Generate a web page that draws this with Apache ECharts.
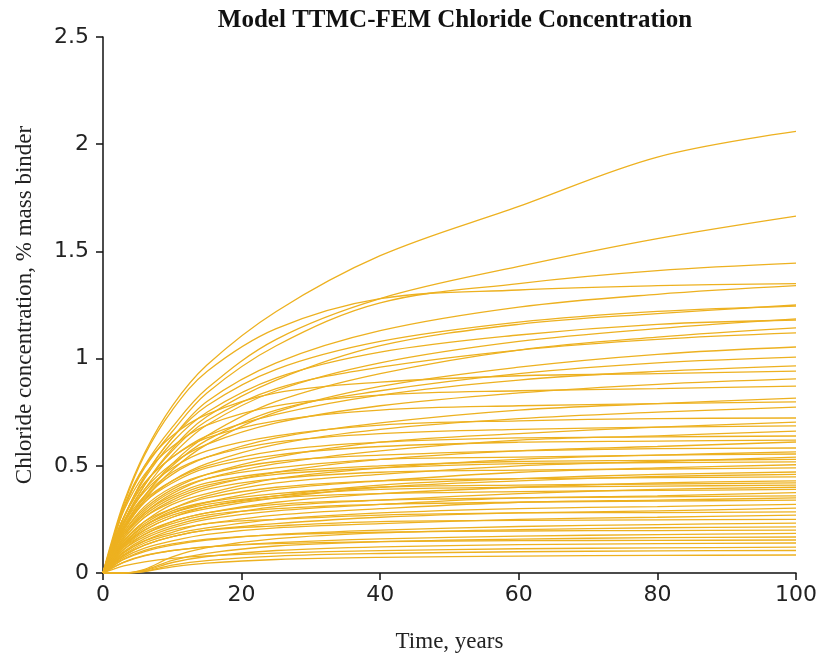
<!DOCTYPE html>
<html>
<head>
<meta charset="utf-8">
<title>Model TTMC-FEM Chloride Concentration</title>
<script src="https://cdn.jsdelivr.net/npm/echarts@6/dist/echarts.min.js"></script>
<style>
  html, body { margin: 0; padding: 0; background: #fff; }
  #chart { width: 820px; height: 660px; }
</style>
</head>
<body>
<div id="chart"></div>
<script>
// sample times (years) shared by every curve
var years = [0, 1, 3, 6, 10, 15, 25, 40, 60, 80, 100]

// chloride concentration, % mass binder
var upperCurves = [
  [0, 0.12, 0.33, 0.56, 0.78, 0.97, 1.22, 1.48, 1.71, 1.94, 2.06],
  [0, 0.1, 0.3, 0.5, 0.68, 0.86, 1.09, 1.28, 1.43, 1.56, 1.665],
  [0, 0.1, 0.3, 0.49, 0.66, 0.84, 1.06, 1.26, 1.35, 1.41, 1.445],
  [0, 0.11, 0.32, 0.55, 0.76, 0.94, 1.14, 1.28, 1.32, 1.34, 1.35],
  [0, 0.09, 0.26, 0.45, 0.63, 0.8, 0.98, 1.13, 1.24, 1.3, 1.34],
  [0, 0.08, 0.24, 0.41, 0.58, 0.73, 0.9, 1.06, 1.16, 1.21, 1.25],
  [0, 0.09, 0.26, 0.45, 0.63, 0.78, 0.95, 1.08, 1.17, 1.22, 1.245],
  [0, 0.08, 0.23, 0.39, 0.55, 0.69, 0.85, 0.98, 1.08, 1.14, 1.185],
  [0, 0.09, 0.26, 0.44, 0.61, 0.75, 0.91, 1.03, 1.11, 1.16, 1.18],
  [0, 0.07, 0.21, 0.36, 0.51, 0.64, 0.8, 0.93, 1.04, 1.1, 1.143],
  [0, 0.08, 0.24, 0.41, 0.57, 0.71, 0.86, 0.96, 1.04, 1.09, 1.12],
  [0, 0.07, 0.2, 0.34, 0.48, 0.6, 0.75, 0.87, 0.96, 1.02, 1.054],
  [0, 0.07, 0.21, 0.36, 0.5, 0.62, 0.76, 0.85, 0.93, 0.98, 1.007]
]

var middleCurves = [
  [0, 0.1, 0.26, 0.42, 0.54, 0.64, 0.74, 0.83, 0.9, 0.94, 0.966],
  [0, 0.11, 0.31, 0.5, 0.64, 0.74, 0.84, 0.89, 0.92, 0.93, 0.942],
  [0, 0.09, 0.24, 0.39, 0.51, 0.6, 0.7, 0.78, 0.84, 0.88, 0.905],
  [0, 0.1, 0.29, 0.46, 0.59, 0.69, 0.78, 0.83, 0.85, 0.86, 0.872],
  [0, 0.08, 0.22, 0.35, 0.46, 0.54, 0.63, 0.7, 0.76, 0.79, 0.816],
  [0, 0.1, 0.26, 0.42, 0.54, 0.63, 0.71, 0.76, 0.78, 0.79, 0.798],
  [0, 0.08, 0.21, 0.33, 0.43, 0.51, 0.6, 0.67, 0.72, 0.75, 0.774],
  [0, 0.09, 0.24, 0.38, 0.49, 0.57, 0.64, 0.69, 0.71, 0.72, 0.723],
  [0, 0.07, 0.19, 0.3, 0.39, 0.46, 0.54, 0.61, 0.65, 0.68, 0.704],
  [0, 0.08, 0.23, 0.36, 0.47, 0.54, 0.61, 0.65, 0.67, 0.68, 0.686],
  [0, 0.07, 0.18, 0.28, 0.37, 0.44, 0.51, 0.57, 0.62, 0.64, 0.662],
  [0, 0.08, 0.21, 0.34, 0.43, 0.5, 0.57, 0.61, 0.63, 0.635, 0.639],
  [0, 0.074, 0.2, 0.33, 0.42, 0.49, 0.55, 0.59, 0.61, 0.615, 0.62],
  [0, 0.06, 0.16, 0.26, 0.34, 0.4, 0.47, 0.53, 0.57, 0.59, 0.611],
  [0, 0.07, 0.19, 0.31, 0.4, 0.46, 0.52, 0.55, 0.57, 0.58, 0.583],
  [0, 0.06, 0.15, 0.24, 0.32, 0.37, 0.44, 0.49, 0.53, 0.55, 0.565],
  [0, 0.07, 0.18, 0.29, 0.38, 0.44, 0.49, 0.53, 0.54, 0.55, 0.555],
  [0, 0.05, 0.15, 0.23, 0.3, 0.36, 0.42, 0.46, 0.5, 0.52, 0.54],
  [0, 0.06, 0.17, 0.28, 0.36, 0.42, 0.47, 0.5, 0.52, 0.525, 0.53],
  [0, 0.06, 0.17, 0.27, 0.35, 0.41, 0.46, 0.49, 0.51, 0.515, 0.518],
  [0, 0.05, 0.14, 0.22, 0.28, 0.33, 0.39, 0.43, 0.47, 0.49, 0.505],
  [0, 0.06, 0.16, 0.26, 0.33, 0.39, 0.44, 0.47, 0.48, 0.485, 0.49],
  [0, 0.05, 0.13, 0.2, 0.26, 0.31, 0.36, 0.41, 0.44, 0.46, 0.471],
  [0, 0.046, 0.124, 0.2, 0.26, 0.3, 0.35, 0.4, 0.43, 0.45, 0.46],
  [0, 0.05, 0.15, 0.24, 0.3, 0.35, 0.4, 0.43, 0.44, 0.445, 0.448]
]

var lowerCurves = [
  [0, 0.04, 0.12, 0.18, 0.24, 0.28, 0.33, 0.37, 0.4, 0.42, 0.43],
  [0, 0.05, 0.14, 0.22, 0.29, 0.33, 0.37, 0.4, 0.41, 0.415, 0.42],
  [0, 0.05, 0.135, 0.22, 0.28, 0.32, 0.36, 0.39, 0.4, 0.405, 0.41],
  [0, 0.04, 0.11, 0.17, 0.22, 0.26, 0.31, 0.34, 0.37, 0.39, 0.4],
  [0, 0.05, 0.13, 0.21, 0.27, 0.31, 0.35, 0.37, 0.38, 0.385, 0.39],
  [0, 0.04, 0.1, 0.16, 0.21, 0.25, 0.29, 0.32, 0.35, 0.36, 0.375],
  [0, 0.04, 0.12, 0.19, 0.24, 0.28, 0.32, 0.34, 0.35, 0.355, 0.36],
  [0, 0.035, 0.095, 0.15, 0.2, 0.23, 0.27, 0.3, 0.33, 0.34, 0.35],
  [0, 0.04, 0.11, 0.18, 0.23, 0.27, 0.3, 0.32, 0.33, 0.335, 0.34],
  [0, 0.032, 0.086, 0.14, 0.18, 0.21, 0.25, 0.28, 0.3, 0.31, 0.32],
  [0, 0.03, 0.08, 0.13, 0.17, 0.2, 0.23, 0.26, 0.28, 0.29, 0.303],
  [0, 0.034, 0.094, 0.15, 0.19, 0.23, 0.25, 0.27, 0.28, 0.282, 0.285],
  [0, 0.027, 0.073, 0.116, 0.15, 0.18, 0.21, 0.23, 0.25, 0.26, 0.27],
  [0, 0.03, 0.083, 0.13, 0.17, 0.2, 0.22, 0.24, 0.245, 0.248, 0.25],
  [0, 0.023, 0.063, 0.1, 0.13, 0.154, 0.18, 0.2, 0.217, 0.226, 0.233],
  [0, 0, 0, 0.017, 0.075, 0.118, 0.16, 0.187, 0.202, 0.211, 0.215],
  [0, 0.024, 0.066, 0.106, 0.136, 0.158, 0.178, 0.19, 0.196, 0.198, 0.2],
  [0, 0.018, 0.05, 0.08, 0.104, 0.122, 0.142, 0.159, 0.172, 0.179, 0.185],
  [0, 0, 0, 0.013, 0.059, 0.092, 0.126, 0.146, 0.158, 0.165, 0.168],
  [0, 0.018, 0.051, 0.082, 0.105, 0.122, 0.137, 0.146, 0.151, 0.152, 0.154],
  [0, 0, 0, 0.011, 0.049, 0.077, 0.105, 0.122, 0.132, 0.137, 0.14],
  [0, 0.012, 0.033, 0.052, 0.068, 0.08, 0.093, 0.104, 0.113, 0.117, 0.121],
  [0, 0, 0, 0.008, 0.037, 0.058, 0.079, 0.091, 0.099, 0.103, 0.105],
  [0, 0, 0, 0.007, 0.029, 0.046, 0.063, 0.073, 0.079, 0.082, 0.084]
]

var xTicks = [0, 20, 40, 60, 80, 100]
var yTicks = [0, 0.5, 1, 1.5, 2, 2.5]

var lineColor = '#EDB120'
var serif = '"Liberation Serif", "DejaVu Serif", serif'
var sans = '"DejaVu Sans", "Liberation Sans", sans-serif'

function toSeries(rows) {
  return rows.map(function (row) {
    return {
      type: 'line',
      showSymbol: false,
      smooth: 0.35,
      silent: true,
      lineStyle: { color: lineColor, width: 1.3 },
      data: row.map(function (v, i) { return [years[i], v] })
    }
  })
}

var allSeries = toSeries(upperCurves)
  .concat(toSeries(middleCurves))
  .concat(toSeries(lowerCurves))

var chart = echarts.init(document.getElementById('chart'))

chart.setOption({
  animation: false,
  backgroundColor: '#fff',
  title: {
    text: 'Model TTMC-FEM Chloride Concentration',
    left: 450,
    textAlign: 'center',
    top: 3,
    textStyle: {
      fontFamily: serif,
      fontWeight: 'bold',
      fontSize: 25,
      color: '#111'
    }
  },
  grid: {
    left: 103,
    right: 23,
    top: 37,
    bottom: 87
  },
  xAxis: {
    type: 'value',
    min: xTicks[0],
    max: xTicks[xTicks.length - 1],
    interval: 20,
    name: 'Time, years',
    nameLocation: 'middle',
    nameGap: 57,
    nameTextStyle: { fontFamily: serif, fontSize: 23, color: '#222' },
    axisLine: { lineStyle: { color: '#111', width: 1.5 } },
    axisTick: { length: 7, lineStyle: { color: '#111', width: 1.5 } },
    axisLabel: { fontFamily: sans, fontSize: 22, color: '#222', margin: 11 },
    splitLine: { show: false }
  },
  yAxis: {
    type: 'value',
    min: yTicks[0],
    max: yTicks[yTicks.length - 1],
    interval: 0.5,
    name: 'Chloride concentration, % mass binder',
    nameLocation: 'middle',
    nameGap: 67,
    nameTextStyle: { fontFamily: serif, fontSize: 23, color: '#222' },
    axisLine: { show: true, lineStyle: { color: '#111', width: 1.5 } },
    axisTick: { show: true, length: 7, lineStyle: { color: '#111', width: 1.5 } },
    axisLabel: { fontFamily: sans, fontSize: 22, color: '#222', margin: 14 },
    splitLine: { show: false }
  },
  series: allSeries
})
</script>
</body>
</html>
